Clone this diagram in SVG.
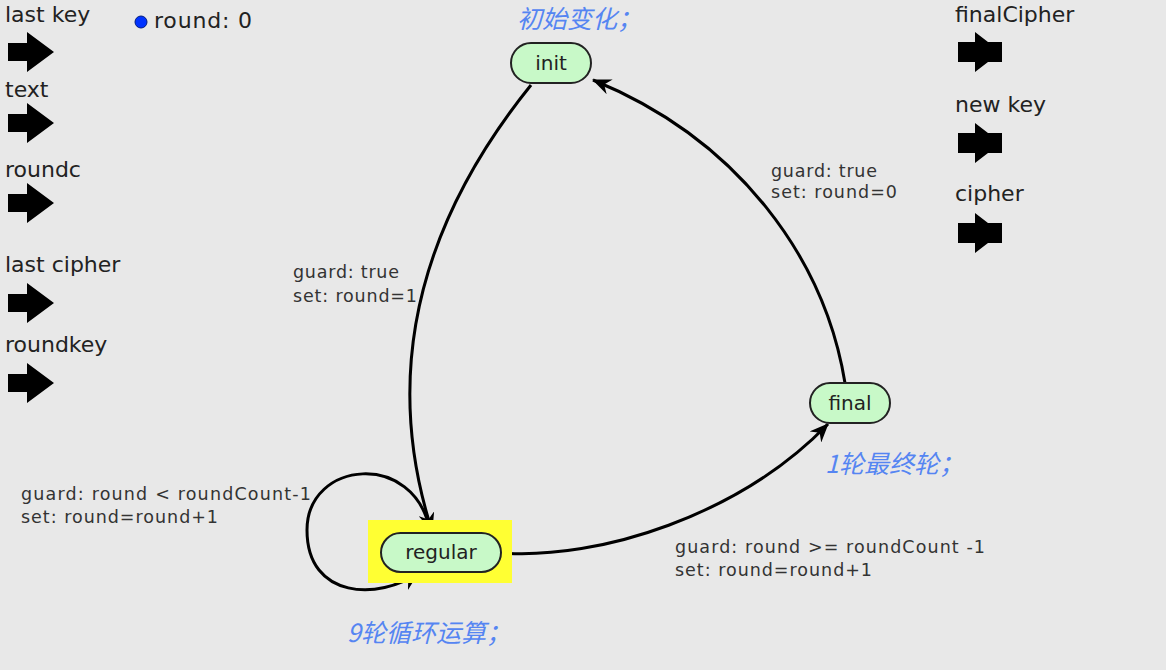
<svg xmlns="http://www.w3.org/2000/svg" width="1166" height="670" viewBox="0 0 1166 670">
<defs>
<style>
.bg{fill:#e8e8e8}
.port{font-family:"DejaVu Sans",sans-serif;font-size:22px;fill:#222}
.pa{fill:#000}
.node rect.s{fill:#c8f9c8;stroke:#222;stroke-width:2}
.nt{font-family:"DejaVu Sans",sans-serif;font-size:20px;fill:#222;text-anchor:middle}
.lbl{font-family:"DejaVu Sans",sans-serif;font-size:17.5px;fill:#333}
.cmt{font-family:"Noto Sans CJK SC","DejaVu Sans",sans-serif;font-size:25px;font-style:italic;fill:#5585f2}
.edge{fill:none;stroke:#000;stroke-width:3}
</style>
<marker id="ah" markerUnits="userSpaceOnUse" markerWidth="20" markerHeight="16" refX="18" refY="8" orient="auto" viewBox="0 0 20 16">
<path d="M0,0 L19,8 L0,16 L6,8 z" fill="#000"/>
</marker>
<path id="inArrow" d="M0,-9 L19,-9 L19,-20 L46,0 L19,20 L19,9 L0,9 z"/>
<path id="outArrow" d="M0,-10 L17,-10 L17,-20 L30,-10 L44,-10 L44,10 L30,10 L17,20 L17,10 L0,10 z"/>
</defs>
<rect class="bg" x="0" y="0" width="1166" height="670"/>

<g id="inputs">
<text class="port" x="5" y="22">last key</text>
<use href="#inArrow" class="pa" x="8" y="52"/>
<text class="port" x="5" y="97">text</text>
<use href="#inArrow" class="pa" x="8" y="123"/>
<text class="port" x="5" y="177">roundc</text>
<use href="#inArrow" class="pa" x="8" y="203"/>
<text class="port" x="5" y="272">last cipher</text>
<use href="#inArrow" class="pa" x="8" y="303"/>
<text class="port" x="5" y="352">roundkey</text>
<use href="#inArrow" class="pa" x="8" y="383"/>
</g>

<g id="param">
<circle cx="141" cy="22" r="6" fill="#0033ff" stroke="#001a80" stroke-width="1"/>
<text class="port" x="154" y="28" textLength="98">round: 0</text>
</g>

<g id="outputs">
<text class="port" x="955" y="22">finalCipher</text>
<use href="#outArrow" class="pa" x="958" y="52"/>
<text class="port" x="955" y="112">new key</text>
<use href="#outArrow" class="pa" x="958" y="143"/>
<text class="port" x="955" y="201">cipher</text>
<use href="#outArrow" class="pa" x="958" y="233"/>
</g>

<g id="connectors">
<path class="edge" d="M531,85 Q358,300 432,531" marker-end="url(#ah)"/>
<path class="edge" d="M430,531 C415,450 307,460 307,530 C307,600 380,600 418,573" marker-end="url(#ah)"/>
<path class="edge" d="M501,553 C600,560 740,515 828,424" marker-end="url(#ah)"/>
<path class="edge" d="M845,383 C825,260 740,140 593,80" marker-end="url(#ah)"/>
<text class="lbl" x="293" y="278" textLength="106">guard: true</text>
<text class="lbl" x="293" y="302" textLength="124">set: round=1</text>
<text class="lbl" x="771" y="177" textLength="106">guard: true</text>
<text class="lbl" x="771" y="198" textLength="126">set: round=0</text>
<text class="lbl" x="21" y="500" textLength="290">guard: round &lt; roundCount-1</text>
<text class="lbl" x="21" y="523" textLength="197">set: round=round+1</text>
<text class="lbl" x="675" y="553" textLength="310">guard: round &gt;= roundCount -1</text>
<text class="lbl" x="675" y="576" textLength="197">set: round=round+1</text>
</g>

<g id="init" class="node">
<rect class="s" x="511" y="43" width="80" height="40" rx="20"/>
<text class="nt" x="551" y="70">init</text>
</g>
<g id="final" class="node">
<rect class="s" x="810" y="383" width="80" height="40" rx="20"/>
<text class="nt" x="850" y="410">final</text>
</g>
<g id="regular" class="node">
<rect x="368" y="520" width="144" height="63" fill="#ffff33"/>
<rect class="s" x="381" y="533" width="120" height="39" rx="19.5"/>
<text class="nt" x="441" y="559">regular</text>
</g>

<g id="comments">
<text class="cmt" x="517" y="28">初始变化；</text>
<text class="cmt" x="825" y="473">1轮最终轮；</text>
<text class="cmt" x="347" y="642">9轮循环运算；</text>
</g>
</svg>
